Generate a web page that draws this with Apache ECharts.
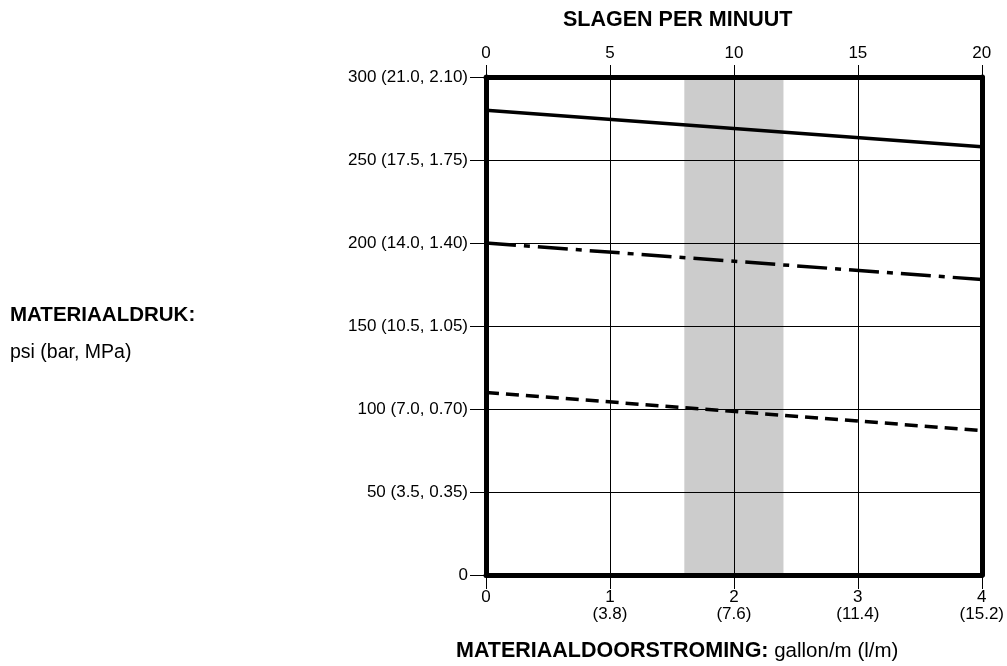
<!DOCTYPE html>
<html>
<head>
<meta charset="utf-8">
<style>
html,body{margin:0;padding:0;background:#fff;}
#chart{width:1007px;height:666px;}
</style>
<script src="https://cdn.jsdelivr.net/npm/echarts@6/dist/echarts.min.js"></script>
</head>
<body>
<div id="chart"></div>
<script>
// ---- data ----
var flowTicks = [0, 1, 2, 3, 4];
var flowTickLabels = ['0', '1\n(3.8)', '2\n(7.6)', '3\n(11.4)', '4\n(15.2)'];
var strokeTickLabels = ['0', '5', '10', '15', '20'];
var pressureTickLabels = ['0', '50 (3.5, 0.35)', '100 (7.0, 0.70)', '150 (10.5, 1.05)', '200 (14.0, 1.40)', '250 (17.5, 1.75)', '300 (21.0, 2.10)'];
var solidLine = [[0, 280], [4, 258]];
var dashDotLine = [[0, 200], [4, 178]];
var dashedLine = [[0, 110], [4, 87]];
var bandRange = [1.6, 2.4];
var topTitle = 'SLAGEN PER MINUUT';
var bottomTitleBold = 'MATERIAALDOORSTROMING:';
var bottomTitleNormal = ' gallon/m (l/m)';
var leftTitleBold = 'MATERIAALDRUK:';
var leftTitleNormal = 'psi (bar, MPa)';

var FONT = "'Liberation Sans', Arial, sans-serif";
var chart = echarts.init(document.getElementById('chart'));

var option = {
  animation: false,
  backgroundColor: '#fff',
  grid: { left: 486, top: 77, width: 498, height: 498, show: false },
  xAxis: [
    {
      type: 'value', position: 'bottom', min: 0, max: 4, interval: 1, z: 5,
      axisLine: { show: true, onZero: false, lineStyle: { color: '#000', width: 5 } },
      axisTick: { show: true, length: 14, lineStyle: { color: '#000', width: 1 } },
      axisLabel: {
        color: '#000', fontFamily: FONT, fontSize: 17, lineHeight: 17, margin: 14,
        formatter: function (v) { var i = flowTicks.indexOf(v); return i >= 0 ? flowTickLabels[i] : ''; }
      },
      splitLine: { show: true, lineStyle: { color: '#000', width: 1 } }
    },
    {
      type: 'value', position: 'top', min: 0, max: 20, interval: 5, z: 5,
      axisLine: { show: true, onZero: false, lineStyle: { color: '#000', width: 5 } },
      axisTick: { show: true, length: 12, lineStyle: { color: '#000', width: 1 } },
      axisLabel: {
        color: '#000', fontFamily: FONT, fontSize: 17, margin: 15,
        formatter: function (v) { return strokeTickLabels[Math.round(v / 5)] || ''; }
      },
      splitLine: { show: false }
    }
  ],
  yAxis: [
    {
      type: 'value', position: 'left', min: 0, max: 300, interval: 50, z: 5,
      axisLine: { show: true, onZero: false, lineStyle: { color: '#000', width: 5 } },
      axisTick: { show: true, length: 16, lineStyle: { color: '#000', width: 1 } },
      axisLabel: {
        color: '#000', fontFamily: FONT, fontSize: 17, margin: 18,
        formatter: function (v) { return pressureTickLabels[Math.round(v / 50)] || ''; }
      },
      splitLine: { show: true, lineStyle: { color: '#000', width: 1 } }
    },
    {
      type: 'value', position: 'right', min: 0, max: 300, interval: 50, z: 5,
      axisLine: { show: true, onZero: false, lineStyle: { color: '#000', width: 5 } },
      axisTick: { show: false }, axisLabel: { show: false }, splitLine: { show: false }
    }
  ],
  series: [
    {
      type: 'line', xAxisIndex: 0, yAxisIndex: 0, data: [], z: 1,
      markArea: {
        silent: true,
        itemStyle: { color: '#cccccc' },
        data: [[{ xAxis: bandRange[0] }, { xAxis: bandRange[1] }]]
      }
    },
    {
      type: 'line', xAxisIndex: 0, yAxisIndex: 0, data: solidLine, z: 10, symbol: 'none',
      lineStyle: { color: '#000', width: 3.5, type: 'solid' }
    },
    {
      type: 'line', xAxisIndex: 0, yAxisIndex: 0, data: dashDotLine, z: 10, symbol: 'none',
      lineStyle: { color: '#000', width: 3.5, type: [30, 8, 6, 8] }
    },
    {
      type: 'line', xAxisIndex: 0, yAxisIndex: 0, data: dashedLine, z: 10, symbol: 'none',
      lineStyle: { color: '#000', width: 3.5, type: [13, 7] }
    }
  ],
  graphic: [
    {
      type: 'text', left: 563, top: 9,
      style: { text: topTitle, fill: '#000', font: 'bold 21.5px ' + FONT }
    },
    {
      type: 'text', left: 456, top: 640,
      style: {
        text: '{b|' + bottomTitleBold + '}{n|' + bottomTitleNormal + '}',
        rich: {
          b: { fontFamily: FONT, fontSize: 21.5, fontWeight: 'bold', fill: '#000', color: '#000' },
          n: { fontFamily: FONT, fontSize: 20.5, fill: '#000', color: '#000' }
        }
      }
    },
    {
      type: 'text', left: 10, top: 305,
      style: { text: leftTitleBold, fill: '#000', font: 'bold 20.5px ' + FONT }
    },
    {
      type: 'text', left: 10, top: 343,
      style: { text: leftTitleNormal, fill: '#000', font: '19.5px ' + FONT }
    }
  ]
};
chart.setOption(option);
</script>
</body>
</html>
